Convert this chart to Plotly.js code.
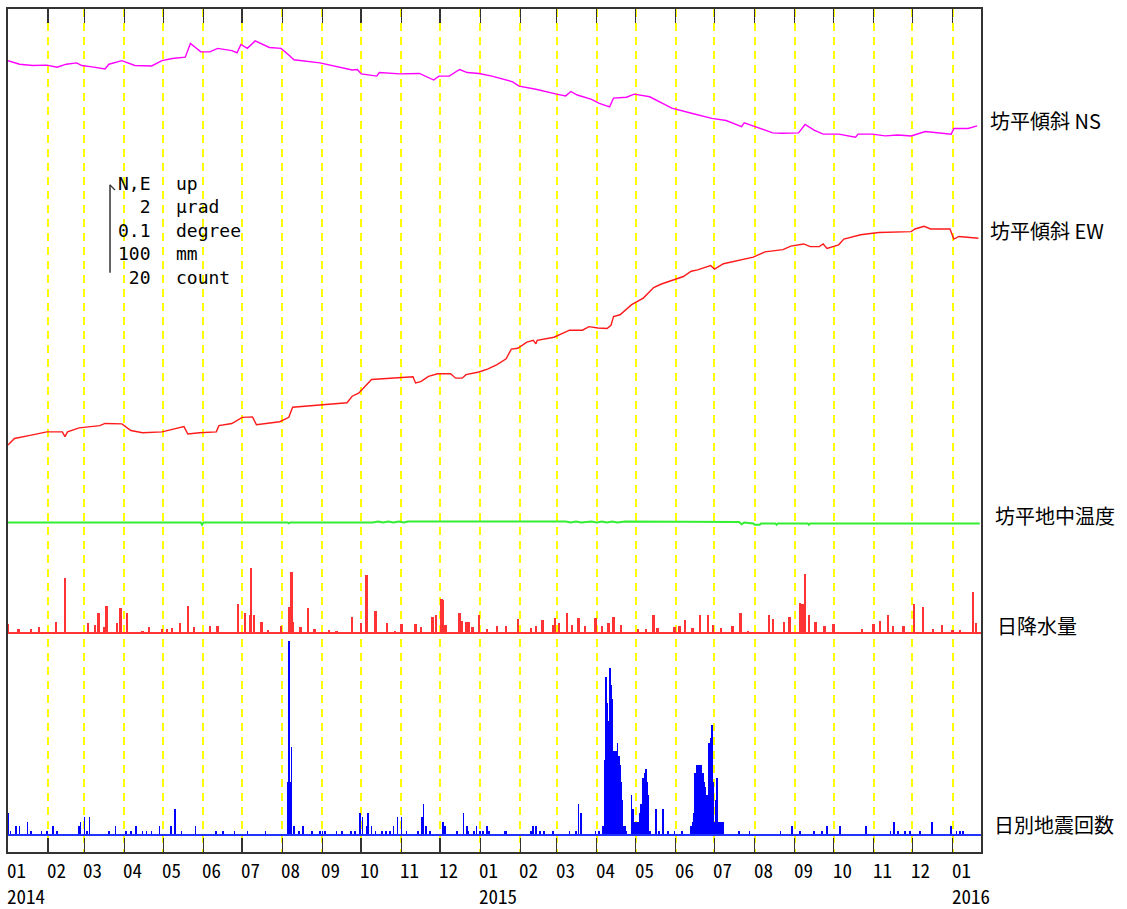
<!DOCTYPE html>
<html><head><meta charset="utf-8">
<script src="https://cdn.plot.ly/plotly-3.0.1.min.js"></script>
<style>html,body{margin:0;padding:0;background:#fff}#chart{width:1127px;height:909px}</style>
</head><body><div id="chart"></div>
<script>
const xStart = '2014-01-01', xEnd = '2016-01-23';

const monthTicks = ['2014-01-01','2014-02-01','2014-03-01','2014-04-01','2014-05-01','2014-06-01','2014-07-01','2014-08-01','2014-09-01','2014-10-01','2014-11-01','2014-12-01',
  '2015-01-01','2015-02-01','2015-03-01','2015-04-01','2015-05-01','2015-06-01','2015-07-01','2015-08-01','2015-09-01','2015-10-01','2015-11-01','2015-12-01','2016-01-01'];
const monthLabels = ['01','02','03','04','05','06','07','08','09','10','11','12',
  '01','02','03','04','05','06','07','08','09','10','11','12','01'];
const yearTicks = ['2014-01-01','2015-01-01','2016-01-01'];
const yearLabels = ['2014','2015','2016'];

// 坊平傾斜 NS (μrad, relative)
const nsDates = ['2014-01-01','2014-01-10','2014-01-20','2014-01-31','2014-02-08','2014-02-15','2014-02-23','2014-02-27','2014-03-07','2014-03-17','2014-03-20','2014-03-30','2014-04-09','2014-04-22','2014-04-30','2014-05-08','2014-05-18','2014-05-22','2014-05-30','2014-06-06','2014-06-12','2014-06-23','2014-06-27','2014-06-30','2014-07-05','2014-07-11','2014-07-22','2014-07-31','2014-08-06','2014-08-10','2014-08-30','2014-09-14','2014-09-24','2014-09-28','2014-10-01','2014-10-13','2014-10-15','2014-10-31','2014-11-15','2014-11-26','2014-11-30','2014-12-08','2014-12-16','2014-12-22','2014-12-31',
  '2015-01-10','2015-01-26','2015-01-31','2015-02-13','2015-03-01','2015-03-08','2015-03-12','2015-03-17','2015-03-28','2015-04-03','2015-04-11','2015-04-14','2015-04-24','2015-04-30','2015-05-12','2015-05-29','2015-06-14','2015-06-29','2015-07-10','2015-07-22','2015-07-24','2015-08-01','2015-08-15','2015-08-22','2015-09-04','2015-09-09','2015-09-16','2015-09-23','2015-10-05','2015-10-18','2015-10-20','2015-10-31','2015-11-10','2015-11-20','2015-11-30','2015-12-11','2015-12-21','2015-12-31','2016-01-02','2016-01-13','2016-01-20'];
const nsTilt = [2.03,1.95,1.92,1.93,1.88,1.95,1.98,1.92,1.89,1.84,1.95,2.03,1.92,1.91,2.03,2.08,2.11,2.42,2.23,2.23,2.31,2.26,2.21,2.40,2.31,2.48,2.33,2.31,2.16,2.05,1.98,1.89,1.82,1.83,1.73,1.68,1.76,1.73,1.74,1.59,1.68,1.68,1.83,1.76,1.74,
  1.68,1.55,1.45,1.38,1.27,1.23,1.33,1.25,1.15,1.06,0.98,1.18,1.20,1.27,1.21,0.95,0.83,0.72,0.67,0.53,0.62,0.53,0.39,0.38,0.39,0.58,0.45,0.36,0.36,0.29,0.36,0.36,0.32,0.34,0.32,0.42,0.39,0.36,0.49,0.49,0.55];

// 坊平傾斜 EW (μrad, relative)
const ewDates = ['2014-01-01','2014-01-06','2014-01-18','2014-01-31','2014-02-12','2014-02-14','2014-02-16','2014-02-25','2014-03-13','2014-03-17','2014-03-30','2014-04-06','2014-04-15','2014-04-30','2014-05-17','2014-05-20','2014-05-29','2014-06-11','2014-06-13','2014-06-23','2014-07-01','2014-07-09','2014-07-12','2014-07-30','2014-08-06','2014-08-09','2014-08-30','2014-09-20','2014-09-24','2014-09-29','2014-10-09','2014-10-31','2014-11-10','2014-11-12','2014-11-16','2014-11-22','2014-11-29','2014-12-09','2014-12-13','2014-12-18','2014-12-21','2014-12-31',
  '2015-01-07','2015-01-14','2015-01-21','2015-01-25','2015-01-30','2015-02-06','2015-02-11','2015-02-13','2015-02-14','2015-02-27','2015-03-11','2015-03-21','2015-03-26','2015-04-02','2015-04-09','2015-04-12','2015-04-14','2015-04-19','2015-04-28','2015-05-07','2015-05-15','2015-05-21','2015-05-31','2015-06-07','2015-06-13','2015-06-18','2015-06-28','2015-07-01','2015-07-08','2015-07-20','2015-07-31','2015-08-09','2015-08-23','2015-08-29','2015-09-08','2015-09-13','2015-09-20','2015-09-23','2015-09-26','2015-10-05','2015-10-09','2015-10-22','2015-11-05','2015-11-30','2015-12-03','2015-12-10','2015-12-15','2015-12-30','2016-01-02','2016-01-06','2016-01-18','2016-01-21'];
const ewTilt = [0.34,0.49,0.56,0.64,0.64,0.53,0.64,0.73,0.78,0.83,0.82,0.67,0.62,0.64,0.76,0.59,0.62,0.64,0.78,0.83,0.97,0.98,0.80,0.87,0.97,1.20,1.25,1.30,1.45,1.52,1.83,1.86,1.89,1.75,1.78,1.90,1.96,1.96,1.86,1.86,1.94,2.00,
  2.07,2.17,2.30,2.52,2.54,2.68,2.72,2.64,2.72,2.79,2.95,2.95,3.03,3.00,2.99,3.06,3.26,3.30,3.53,3.68,3.92,4.00,4.11,4.17,4.29,4.32,4.42,4.34,4.46,4.54,4.61,4.73,4.78,4.86,4.91,4.85,4.85,4.91,4.81,4.89,5.02,5.12,5.17,5.19,5.25,5.31,5.25,5.25,5.02,5.08,5.04,5.04];

// 坊平地中温度 (degree)
const tempDates = ['2014-01-01','2014-05-30','2014-05-31','2014-06-01','2014-08-05','2014-08-06','2014-08-07','2014-10-10','2014-10-14','2014-10-18','2014-10-22','2014-10-26','2014-10-30','2014-11-03','2014-11-06','2015-03-08','2015-03-12','2015-03-16','2015-03-20','2015-03-28','2015-04-01','2015-04-05','2015-04-09','2015-04-13','2015-04-17','2015-04-23','2015-07-20','2015-07-22','2015-07-24','2015-07-31','2015-08-01','2015-08-05','2015-08-06','2015-08-17','2015-08-18','2015-08-19','2015-09-11','2015-09-12','2015-09-13','2016-01-22'];
const tempDeg = [10.500,10.500,10.4975,10.500,10.500,10.499,10.500,10.500,10.501,10.500,10.501,10.500,10.501,10.500,10.501,10.501,10.500,10.501,10.500,10.501,10.500,10.501,10.500,10.501,10.500,10.501,10.5005,10.498,10.500,10.499,10.4975,10.4975,10.499,10.499,10.4975,10.499,10.499,10.4975,10.499,10.499];

// 日降水量 (mm)
const rainDates = ['2014-01-01','2014-01-09','2014-01-19','2014-01-25','2014-02-07','2014-02-14','2014-03-04','2014-03-09','2014-03-12','2014-03-16','2014-03-18','2014-03-26','2014-03-29','2014-04-03','2014-04-15','2014-04-20','2014-04-30','2014-05-04','2014-05-08','2014-05-14','2014-05-20','2014-05-25','2014-06-06','2014-06-12','2014-06-28','2014-07-03','2014-07-07','2014-07-08','2014-07-10','2014-07-16','2014-07-21','2014-07-31','2014-08-06','2014-08-08','2014-08-09','2014-08-15','2014-08-21','2014-08-26','2014-09-06','2014-09-12','2014-09-24','2014-10-01','2014-10-05','2014-10-12','2014-10-21','2014-10-27','2014-11-01','2014-11-12','2014-11-16','2014-11-25','2014-11-28','2014-12-02','2014-12-03','2014-12-05','2014-12-16','2014-12-18','2014-12-21','2014-12-23','2014-12-26','2014-12-31',
  '2015-01-06','2015-01-14','2015-01-21','2015-01-30','2015-02-09','2015-02-13','2015-02-18','2015-02-26','2015-02-28','2015-03-03','2015-03-09','2015-03-13','2015-03-18','2015-03-23','2015-03-31','2015-04-05','2015-04-10','2015-04-14','2015-04-20','2015-05-03','2015-05-09','2015-05-15','2015-05-18','2015-05-31','2015-06-04','2015-06-08','2015-06-14','2015-06-20','2015-06-26','2015-06-30','2015-07-06','2015-07-15','2015-07-21','2015-07-27','2015-08-12','2015-08-15','2015-08-24','2015-08-28','2015-09-05','2015-09-07','2015-09-09','2015-09-12','2015-09-17','2015-09-24','2015-10-01','2015-10-23','2015-11-01','2015-11-06','2015-11-12','2015-11-16','2015-11-24','2015-12-02','2015-12-09','2015-12-17','2015-12-24','2016-01-01','2016-01-07','2016-01-17','2016-01-19'];
const rainMm = [10,5,5,7,13,63,11,9,23,7,31,11,28,23,2,7,5,4,6,11,31,7,8,8,33,23,20,74,20,13,3,8,30,69,12,7,28,5,3,2,18,11,66,25,11,2,10,10,7,18,20,39,37,9,23,14,13,12,7,20,
  5,8,8,16,6,8,15,9,17,11,23,9,17,8,17,8,11,18,9,5,5,20,6,7,8,15,6,20,20,9,6,8,23,2,20,16,13,18,34,33,67,20,13,8,10,4,10,14,20,8,8,33,29,4,9,3,3,47,11];

// 日別地震回数 (count)
const quakeDates = ['2014-01-01','2014-01-03','2014-01-07','2014-01-10','2014-01-16','2014-01-19','2014-01-27','2014-01-31','2014-02-05','2014-02-08','2014-02-25','2014-02-26','2014-03-01','2014-03-03','2014-03-05','2014-03-20','2014-03-25','2014-04-02','2014-04-06','2014-04-10','2014-04-15','2014-04-18','2014-04-22','2014-04-28','2014-05-07','2014-05-10','2014-05-15','2014-05-26','2014-06-11','2014-06-16','2014-06-25','2014-07-05','2014-07-19','2014-08-05','2014-08-06','2014-08-07','2014-08-08','2014-08-10','2014-08-14','2014-08-17','2014-08-24','2014-08-30','2014-09-01','2014-09-03','2014-09-12','2014-09-16','2014-09-23','2014-09-26','2014-09-30','2014-10-02','2014-10-05','2014-10-06','2014-10-09','2014-10-12','2014-10-17','2014-10-20','2014-10-23','2014-10-26','2014-10-29','2014-11-01','2014-11-05','2014-11-14','2014-11-17','2014-11-18','2014-11-20','2014-11-23','2014-12-03','2014-12-05','2014-12-14','2014-12-19','2014-12-22','2014-12-23','2014-12-27','2014-12-29',
  '2015-01-01','2015-01-03','2015-01-06','2015-01-08','2015-01-20','2015-01-21','2015-02-09','2015-02-11','2015-02-13','2015-02-16','2015-02-19','2015-02-26','2015-03-11','2015-03-16','2015-03-18','2015-03-20','2015-03-31','2015-04-03','2015-04-06','2015-04-07','2015-04-08','2015-04-09','2015-04-10','2015-04-11','2015-04-12','2015-04-13','2015-04-14','2015-04-15','2015-04-16','2015-04-17','2015-04-18','2015-04-19','2015-04-20','2015-04-21','2015-04-22','2015-04-23','2015-04-24','2015-04-28','2015-04-29','2015-04-30','2015-05-01','2015-05-02','2015-05-03','2015-05-04','2015-05-05','2015-05-06','2015-05-07','2015-05-08','2015-05-09','2015-05-10','2015-05-11','2015-05-12','2015-05-17','2015-05-19','2015-05-22','2015-05-26','2015-05-31','2015-06-06','2015-06-13','2015-06-14','2015-06-15','2015-06-16','2015-06-17','2015-06-18','2015-06-19','2015-06-20','2015-06-21','2015-06-22','2015-06-23','2015-06-24','2015-06-25','2015-06-26','2015-06-27','2015-06-28','2015-06-29','2015-06-30','2015-07-01','2015-07-02','2015-07-03','2015-07-04','2015-07-05','2015-07-06','2015-07-07','2015-07-08','2015-07-20','2015-07-28','2015-08-21','2015-08-30','2015-09-05','2015-09-16','2015-09-22','2015-09-26','2015-10-06','2015-10-26','2015-11-14','2015-11-17','2015-11-20','2015-11-25','2015-11-29','2015-12-07','2015-12-16','2015-12-31','2016-01-04','2016-01-07','2016-01-09'];
const quakeCount = [5,1,2,2,3,1,1,1,2,1,2,3,4,1,4,1,2,1,1,2,1,1,1,2,2,6,1,2,1,1,1,1,1,12,44,12,20,2,1,2,1,1,1,1,1,1,1,1,5,4,2,5,2,1,1,1,1,2,4,4,1,1,4,7,2,1,3,2,1,5,2,1,1,2,
  1,1,2,1,1,1,1,2,2,1,1,1,1,1,7,5,1,1,2,17,36,30,26,38,34,31,19,19,19,21,18,16,12,8,2,2,1,9,6,3,3,3,3,5,7,4,13,14,15,12,9,1,6,1,6,1,1,1,2,3,5,14,16,16,16,16,16,14,12,11,9,9,21,22,25,12,3,8,13,3,3,3,3,3,1,1,1,2,1,1,1,2,2,2,1,3,1,1,1,1,3,2,1,1,1];

const DAY = 86400000;
const frameColor = '#333333';

const traces = [
  {x: nsDates, y: nsTilt, type: 'scatter', mode: 'lines', line: {color: '#ff00ff', width: 1.4}, yaxis: 'y', hoverinfo: 'skip'},
  {x: ewDates, y: ewTilt, type: 'scatter', mode: 'lines', line: {color: '#ff1a1a', width: 1.4}, yaxis: 'y2', hoverinfo: 'skip'},
  {x: tempDates, y: tempDeg, type: 'scatter', mode: 'lines', line: {color: '#33ee33', width: 2}, yaxis: 'y3', hoverinfo: 'skip'},
  {x: [xStart, xEnd], y: [0, 0], type: 'scatter', mode: 'lines', line: {color: '#ff3333', width: 2}, yaxis: 'y4', hoverinfo: 'skip'},
  {x: rainDates, y: rainMm, type: 'bar', width: 1.8 * DAY, marker: {color: '#ff3333', line: {width: 0}}, yaxis: 'y4', hoverinfo: 'skip'},
  {x: [xStart, xEnd], y: [0, 0], type: 'scatter', mode: 'lines', line: {color: '#2233ff', width: 2}, yaxis: 'y5', hoverinfo: 'skip'},
  {x: quakeDates, y: quakeCount, type: 'bar', width: 1.3 * DAY, marker: {color: '#0000ff', line: {width: 0}}, yaxis: 'y5', hoverinfo: 'skip'}
];

const hiddenY = {visible: false, showgrid: false, zeroline: false, fixedrange: true};
const py = p => (852 - p) / 843; // paper y from a pixel row of the 1127x909 page

const annotations = [];
const tickFont = {family: '"Noto Sans Mono CJK JP", "Noto Sans CJK JP", "DejaVu Sans Mono", monospace', size: 19, color: '#000'};
monthTicks.forEach((d, i) => {
  annotations.push({x: d, xref: 'x', y: py(870), yref: 'paper', yanchor: 'middle', xanchor: 'left', align: 'left',
    xshift: -2, borderpad: 0, showarrow: false, text: monthLabels[i], font: tickFont});
});
yearTicks.forEach((d, i) => {
  annotations.push({x: d, xref: 'x', y: py(895.5), yref: 'paper', yanchor: 'middle', xanchor: 'left', align: 'left',
    xshift: -2, borderpad: 0, showarrow: false, text: yearLabels[i], font: tickFont});
});
const rightFont = {family: '"Noto Sans CJK JP", "Noto Sans", sans-serif', size: 20, color: '#000'};
const rightLabels = [['坊平傾斜 NS', 988, 120.7], ['坊平傾斜 EW', 988, 230.7], ['坊平地中温度', 993, 515], ['日降水量', 995, 625.7], ['日別地震回数', 992, 824]];
rightLabels.forEach(([t, px, pyv]) => {
  annotations.push({x: 1, xref: 'paper', xanchor: 'left', xshift: px - 981, y: py(pyv), yref: 'paper', yanchor: 'middle',
    showarrow: false, text: t, font: rightFont});
});
const legFont = {family: '"DejaVu Sans Mono", "Liberation Mono", monospace', size: 18, color: '#000'};
annotations.push({x: (153 - 8) / 973, xref: 'paper', xanchor: 'right', align: 'right', y: py(171), yref: 'paper', yanchor: 'top',
  showarrow: false, text: 'N,E<br>2<br>0.1<br>100<br>20', font: legFont});
annotations.push({x: (174 - 8) / 973, xref: 'paper', xanchor: 'left', align: 'left', y: py(171), yref: 'paper', yanchor: 'top',
  showarrow: false, text: 'up<br>μrad<br>degree<br>mm<br>count', font: legFont});

const layout = {
  width: 1127, height: 909,
  margin: {l: 8, r: 146, t: 9, b: 57, pad: 0},
  paper_bgcolor: '#ffffff', plot_bgcolor: '#ffffff',
  showlegend: false, barmode: 'overlay', bargap: 0,
  xaxis: {type: 'date', range: [xStart, xEnd], tick0: '2014-01-01', dtick: 'M1',
    ticks: 'inside', ticklen: 14, tickwidth: 1.5, tickcolor: frameColor, showticklabels: false,
    showgrid: true, gridcolor: '#ffff00', gridwidth: 2, griddash: '8px,6px',
    showline: true, linecolor: frameColor, linewidth: 2, mirror: 'ticks', zeroline: false, fixedrange: true},
  yaxis: {range: [-15.955, 3.2045], showgrid: false, zeroline: false, showticklabels: false, ticks: '',
    showline: true, linecolor: frameColor, linewidth: 2, mirror: true, fixedrange: true},
  yaxis2: Object.assign({overlaying: 'y', range: [-8.909, 10.25]}, hiddenY),
  yaxis3: Object.assign({overlaying: 'y', range: [10.12557, 11.08352]}, hiddenY),
  yaxis4: Object.assign({overlaying: 'y', range: [-248.86, 709.09]}, hiddenY),
  yaxis5: Object.assign({overlaying: 'y', range: [-3.864, 187.73]}, hiddenY),
  shapes: [
    {type: 'line', xref: 'paper', yref: 'y', x0: (110 - 8) / 973, x1: (110 - 8) / 973, y0: -2.79, y1: -0.79, line: {color: '#333', width: 1.5}},
    {type: 'line', xref: 'paper', yref: 'paper', x0: (110 - 8) / 973, x1: (115 - 8) / 973, y0: py(185), y1: py(190), line: {color: '#333', width: 1.2}}
  ],
  annotations: annotations
};

Plotly.newPlot('chart', traces, layout, {displayModeBar: false, staticPlot: true});
</script>
</body></html>
